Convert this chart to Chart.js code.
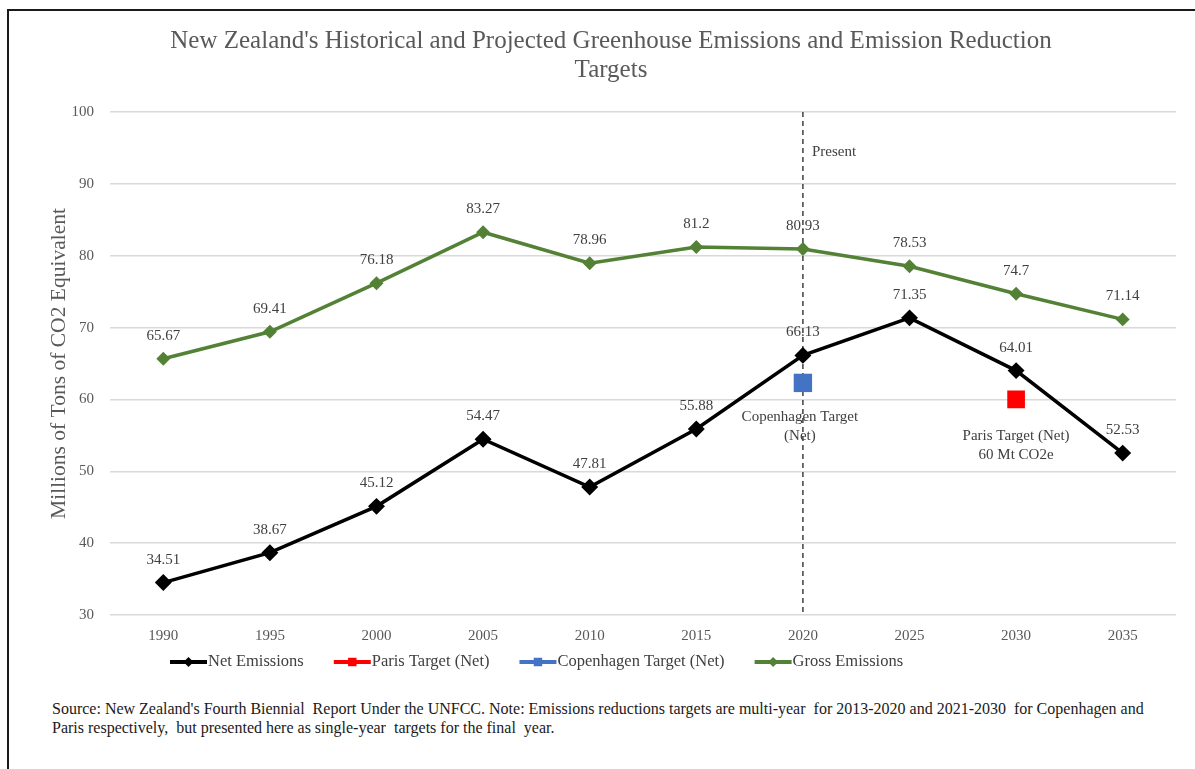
<!DOCTYPE html>
<html>
<head>
<meta charset="utf-8">
<script src="https://cdn.jsdelivr.net/npm/chart.js@4.4.1/dist/chart.umd.min.js"></script>
<style>
  html, body { margin: 0; padding: 0; background: #fff; }
  body { width: 1195px; height: 769px; position: relative; overflow: hidden; font-family: "Liberation Serif", "Times New Roman", serif; }
  #frame { position: absolute; left: 7px; top: 9px; width: 1300px; height: 900px; border-left: 2px solid #1a1a1a; border-top: 2px solid #1a1a1a; }
  #chart { position: absolute; left: 0; top: 0; }
  #source { position: absolute; left: 52px; top: 699px; width: 1095px; font-size: 16px; line-height: 19px; color: #1a1a1a; }
</style>
</head>
<body>
<div id="frame"></div>
<canvas id="chart" width="1195" height="690"></canvas>
<div id="source">Source: New Zealand's Fourth Biennial&nbsp; Report Under the UNFCC. Note: Emissions reductions targets are multi-year&nbsp; for 2013-2020 and 2021-2030&nbsp; for Copenhagen and Paris respectively,&nbsp; but presented here as single-year&nbsp; targets for the final&nbsp; year.</div>
<script>
// Chart data
const years = ['1990', '1995', '2000', '2005', '2010', '2015', '2020', '2025', '2030', '2035'];
const netEmissions = [34.51, 38.67, 45.12, 54.47, 47.81, 55.88, 66.13, 71.35, 64.01, 52.53];
const grossEmissions = [65.67, 69.41, 76.18, 83.27, 78.96, 81.2, 80.93, 78.53, 74.7, 71.14];
const parisTarget = [null, null, null, null, null, null, null, null, 60, null];
const copenhagenTarget = [null, null, null, null, null, null, 62.3, null, null, null];
const yMin = 30;
const yMax = 100;
const yStep = 10;
const presentYear = '2020';

const serif = '"Liberation Serif", "Times New Roman", serif';
const textGray = '#595959';
const labelGray = '#404040';

// Value labels, "Present" line and target notes
const annotations = {
  id: 'annotations',
  beforeDatasetsDraw(chart) {
    const { ctx, chartArea, scales } = chart;
    const x = scales.x.getPixelForValue(years.indexOf(presentYear));
    ctx.save();
    ctx.strokeStyle = '#404040';
    ctx.lineWidth = 1.5;
    ctx.setLineDash([5, 4]);
    ctx.beginPath();
    ctx.moveTo(x, chartArea.top);
    ctx.lineTo(x, chartArea.bottom);
    ctx.stroke();
    ctx.restore();
  },
  afterDatasetsDraw(chart) {
    const { ctx, chartArea, scales } = chart;
    ctx.save();
    ctx.font = '15px ' + serif;
    ctx.fillStyle = labelGray;
    ctx.textAlign = 'center';
    ctx.textBaseline = 'middle';
    chart.data.datasets.forEach((ds, i) => {
      if (!ds.showValues) return;
      chart.getDatasetMeta(i).data.forEach((pt, j) => {
        if (ds.data[j] == null) return;
        ctx.fillText(String(ds.data[j]), pt.x, pt.y - 23);
      });
    });

    const px = scales.x.getPixelForValue(years.indexOf(presentYear));
    ctx.textAlign = 'left';
    ctx.fillText('Present', px + 9, chartArea.top + 40);

    ctx.textAlign = 'center';
    const ci = copenhagenTarget.findIndex(v => v != null);
    const cx = scales.x.getPixelForValue(ci);
    const cy = scales.y.getPixelForValue(copenhagenTarget[ci]);
    ctx.fillText('Copenhagen Target', cx - 3, cy + 34);
    ctx.fillText('(Net)', cx - 3, cy + 53);

    const pi = parisTarget.findIndex(v => v != null);
    const ppx = scales.x.getPixelForValue(pi);
    const ppy = scales.y.getPixelForValue(parisTarget[pi]);
    ctx.fillText('Paris Target (Net)', ppx, ppy + 37);
    ctx.fillText('60 Mt CO2e', ppx, ppy + 56);
    ctx.restore();
  }
};

// Excel-like legend: line with marker, then label
const lineLegend = {
  id: 'lineLegend',
  afterDraw(chart) {
    const { ctx } = chart;
    let x = 170;
    const y = 662;
    ctx.save();
    ctx.font = '16.5px ' + serif;
    ctx.textBaseline = 'middle';
    chart.data.datasets.forEach(ds => {
      const color = ds.legendColor;
      ctx.strokeStyle = color;
      ctx.fillStyle = color;
      ctx.lineWidth = 4;
      ctx.beginPath();
      ctx.moveTo(x, y);
      ctx.lineTo(x + 37, y);
      ctx.stroke();
      Chart.helpers.drawPoint(ctx, {
        pointStyle: ds.pointStyle,
        radius: ds.pointStyle === 'rect' ? 6 : 5,
        borderWidth: 0
      }, x + 18.5, y);
      ctx.fillStyle = labelGray;
      ctx.textAlign = 'left';
      ctx.fillText(ds.label, x + 38, y);
      x += 38 + ctx.measureText(ds.label).width + 30;
    });
    ctx.restore();
  }
};

new Chart(document.getElementById('chart'), {
  type: 'line',
  data: {
    labels: years,
    datasets: [
      {
        label: 'Net Emissions',
        data: netEmissions,
        borderColor: '#000000',
        backgroundColor: '#000000',
        legendColor: '#000000',
        borderWidth: 3.5,
        pointStyle: 'rectRot',
        pointRadius: 6,
        tension: 0,
        showValues: true
      },
      {
        label: 'Paris Target (Net)',
        data: parisTarget,
        borderColor: '#ff0000',
        backgroundColor: '#ff0000',
        legendColor: '#ff0000',
        showLine: false,
        pointStyle: 'rect',
        pointRadius: 12.5,
        pointBorderWidth: 0
      },
      {
        label: 'Copenhagen Target (Net)',
        data: copenhagenTarget,
        borderColor: '#4472c4',
        backgroundColor: '#4472c4',
        legendColor: '#4472c4',
        showLine: false,
        pointStyle: 'rect',
        pointRadius: 13,
        pointBorderWidth: 0
      },
      {
        label: 'Gross Emissions',
        data: grossEmissions,
        borderColor: '#538135',
        backgroundColor: '#538135',
        legendColor: '#538135',
        borderWidth: 3.5,
        pointStyle: 'rectRot',
        pointRadius: 4.5,
        tension: 0,
        showValues: true
      }
    ]
  },
  options: {
    responsive: false,
    animation: false,
    layout: { padding: { left: 46, right: 19, top: 0, bottom: 45 } },
    plugins: {
      legend: { display: false },
      tooltip: { enabled: false },
      title: {
        display: true,
        text: ["New Zealand's Historical and Projected Greenhouse Emissions and Emission Reduction", 'Targets'],
        color: textGray,
        font: { family: serif, size: 25, weight: 'normal', lineHeight: 1.16 },
        padding: { top: 27, bottom: 27 }
      }
    },
    scales: {
      x: {
        offset: true,
        grid: { display: false, drawTicks: false },
        border: { display: false },
        ticks: { color: textGray, padding: 12, font: { family: serif, size: 15 } },
        afterFit(scale) { scale.height = 30; }
      },
      y: {
        min: yMin,
        max: yMax,
        grid: { color: '#d9d9d9', lineWidth: 1.5, drawTicks: false },
        border: { display: false },
        ticks: { stepSize: yStep, color: textGray, padding: 16, font: { family: serif, size: 15 } },
        title: {
          display: true,
          text: 'Millions of Tons of CO2 Equivalent',
          color: textGray,
          font: { family: serif, size: 21.5 },
          padding: { top: 0, bottom: 0 }
        },
        afterFit(scale) { scale.width = 64; }
      }
    }
  },
  plugins: [annotations, lineLegend]
});
</script>
</body>
</html>
